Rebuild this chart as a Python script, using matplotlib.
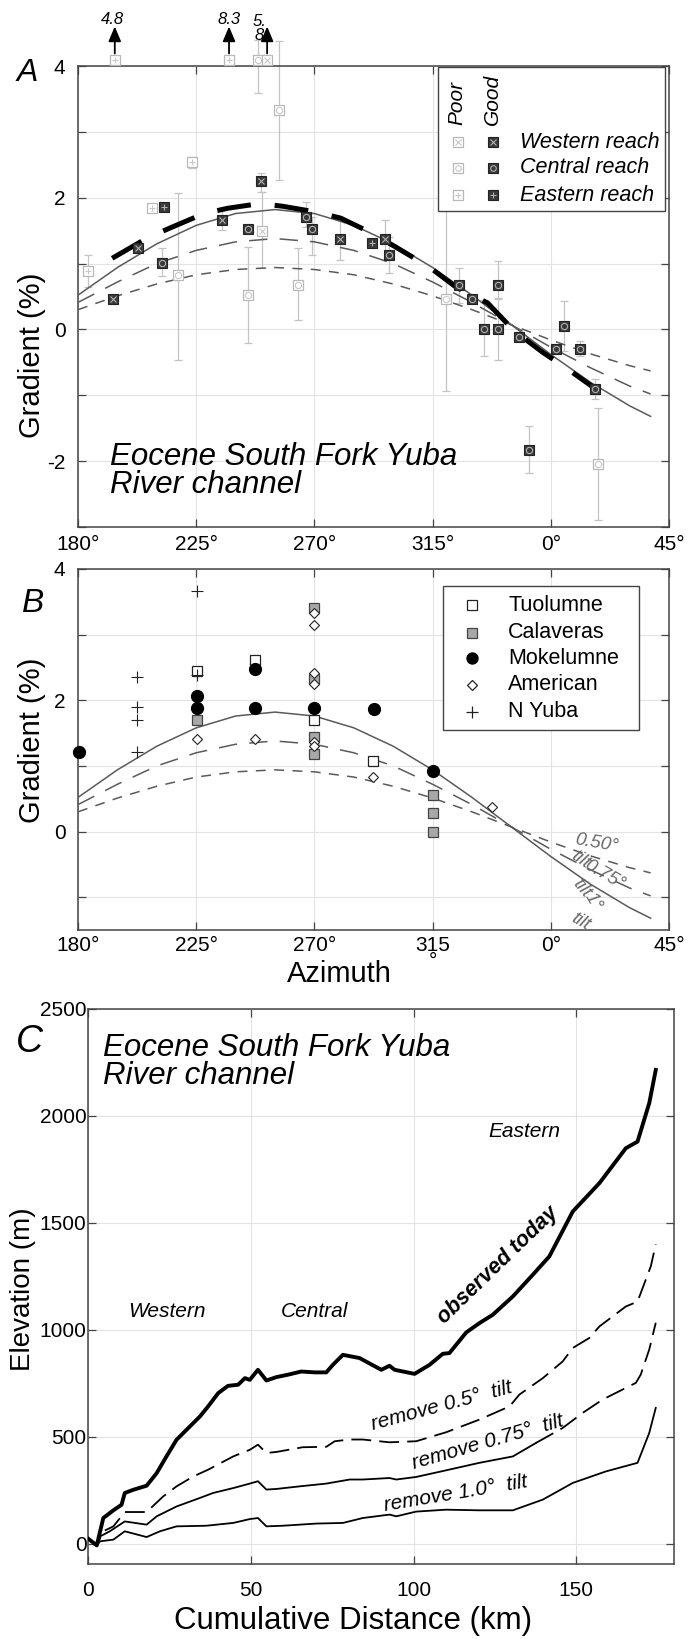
import numpy as np
import matplotlib
matplotlib.use("Agg")
import matplotlib.pyplot as plt
from matplotlib.patches import Rectangle

plt.rcParams['font.family'] = ['Liberation Sans', 'DejaVu Sans']

# ================= DATA =================
# Model gradient curves (azimuth in degrees; values > 360 continue past north)
curve_az = [180, 195, 210, 225, 240, 255, 270, 285, 300, 315, 330, 345, 360, 375, 390, 398]
tilt_100 = [0.52, 0.94, 1.30, 1.58, 1.76, 1.82, 1.76, 1.58, 1.30, 0.94, 0.52, 0.07, -0.38, -0.80, -1.16, -1.32]
tilt_075 = [0.41, 0.72, 1.00, 1.20, 1.33, 1.38, 1.33, 1.20, 1.00, 0.72, 0.41, 0.07, -0.27, -0.58, -0.86, -0.98]
tilt_050 = [0.30, 0.51, 0.69, 0.83, 0.91, 0.94, 0.91, 0.83, 0.69, 0.51, 0.30, 0.07, -0.16, -0.37, -0.55, -0.63]

# Fit to good data (thick dashed)
fit_az = [193, 206, 215, 228, 237, 249, 258, 271, 280, 292, 301, 314, 324, 336, 346, 357, 366, 378]
fit_grad = [1.08, 1.38, 1.54, 1.76, 1.84, 1.91, 1.87, 1.78, 1.69, 1.46, 1.25, 0.94, 0.64, 0.40, -0.02, -0.35, -0.59, -0.93]

# Panel A measurements: azimuth, gradient, lower, upper
gw_az = [193.2, 203.0, 234.7, 249.7, 279.7, 296.9]
gw_g = [0.46, 1.23, 1.66, 2.25, 1.37, 1.37]
gw_lo = [0.46, 1.23, 1.51, 2.08, 1.05, 1.05]
gw_hi = [0.46, 1.23, 1.81, 2.37, 1.70, 1.66]

gc_az = [212.0, 244.8, 266.8, 269.0, 298.4, 325.0, 330.0, 334.5, 340.0, 340.0, 348.0, 351.7, 362.0, 365.0, 371.0, 377.0]
gc_g = [1.01, 1.52, 1.70, 1.52, 1.13, 0.67, 0.46, 0.00, 0.00, 0.67, -0.12, -1.83, -0.29, 0.05, -0.29, -0.91]
gc_lo = [0.81, 1.52, 1.55, 1.13, 0.85, 0.40, 0.46, -0.41, -0.47, 0.46, -0.12, -2.18, -0.29, -0.32, -0.41, -1.05]
gc_hi = [1.23, 1.52, 1.93, 1.70, 1.40, 0.94, 0.46, 0.44, 0.47, 1.04, -0.12, -1.46, -0.29, 0.43, -0.17, -0.75]

ge_az = [212.8, 291.9]
ge_g = [1.86, 1.31]
ge_lo = [1.86, 1.31]
ge_hi = [1.86, 1.31]

pw_az = [250.0, 252.0]
pw_g = [1.49, 5.8]
pw_lo = [0.94, 5.8]
pw_hi = [2.08, 5.8]

pc_az = [218.0, 244.8, 248.5, 256.6, 263.9, 320.0, 378.0]
pc_g = [0.82, 0.52, 4.10, 3.33, 0.68, 0.46, -2.04]
pc_lo = [-0.46, -0.21, 3.59, 2.27, 0.14, -0.94, -2.90]
pc_hi = [2.07, 1.25, 4.40, 4.38, 1.23, 1.84, -1.19]

pe_az = [183.8, 194.0, 208.0, 223.4, 237.5]
pe_g = [0.88, 4.8, 1.85, 2.54, 8.3]
pe_lo = [0.64, 4.8, 1.85, 2.45, 8.3]
pe_hi = [1.13, 4.8, 1.85, 2.62, 8.3]

offscale_label_az = [193.3, 237.5, 249.0]
offscale_label_txt = ['4.8', '8.3', '5.\n8']

# Panel B measurements
tuo_az = [225.3, 247.4, 270.0, 292.3]
tuo_g = [2.45, 2.61, 1.70, 1.08]
cal_az = [225.3, 270.0, 270.0, 270.0, 270.0, 315.1, 315.1, 315.1]
cal_g = [1.70, 3.41, 2.32, 1.44, 1.18, 0.56, 0.29, 0.00]
mok_az = [180.4, 225.3, 225.3, 247.4, 247.4, 270.0, 292.7, 315.1]
mok_g = [1.21, 2.06, 1.88, 2.48, 1.88, 1.88, 1.86, 0.92]
ame_az = [225.3, 247.4, 270.0, 270.0, 270.0, 270.0, 270.0, 270.0, 292.3, 337.6]
ame_g = [1.41, 1.41, 3.33, 3.14, 2.41, 2.25, 1.37, 1.30, 0.83, 0.38]
nyu_az = [202.5, 202.5, 202.5, 202.5, 225.3, 225.3]
nyu_g = [2.35, 1.89, 1.70, 1.21, 3.67, 2.39]

tilt_lbl_txt = ['0.50°', 'tilt', '0.75°', 'tilt', '1°', 'tilt']
tilt_lbl_az = [377.6, 371.1, 380.6, 371.7, 376.0, 371.5]
tilt_lbl_g = [-0.18, -0.43, -0.66, -0.87, -1.07, -1.38]
tilt_lbl_rot = [-10, -35, -30, -50, -60, -30]

az_ticks = [180, 225, 270, 315, 360, 405]
az_labels_A = ['180°', '225°', '270°', '315°', '0°', '45°']
az_labels_B = ['180°', '225°', '270°', '315\n°', '0°', '45°']

# Panel C profiles: cumulative distance (km), elevation (m)
obs_d = [0.1, 2.7, 4.7, 7.8, 10.3, 11.3, 13.9, 18.0, 21.1, 24.1, 27.2, 30.3, 34.4, 36.9, 40.0, 43.0,
         46.1, 48.2, 49.7, 52.2, 54.8, 57.9, 61.4, 65.5, 69.6, 73.2, 75.2, 78.3, 83.4, 90.1, 92.6, 94.2,
         100.3, 104.9, 109.0, 111.0, 116.2, 120.2, 124.3, 130.5, 136.6, 141.7, 148.9, 157.1, 165.2,
         168.8, 172.4, 174.4]
obs_e = [23, -8, 120, 156, 182, 237, 252, 271, 330, 408, 486, 533, 595, 642, 704, 738,
         743, 774, 766, 813, 763, 779, 790, 805, 801, 801, 836, 883, 868, 813, 832, 813,
         794, 836, 888, 891, 988, 1031, 1070, 1156, 1257, 1343, 1553, 1686, 1849,
         1880, 2060, 2215]

rm050_d = [0.1, 2.7, 4.7, 7.8, 11.3, 18.0, 23.1, 27.2, 32.3, 36.9, 44.6, 49.7, 52.2, 54.8, 57.9,
           66.0, 73.2, 75.8, 80.4, 84.4, 92.6, 100.8, 110.0, 120.2, 129.5, 132.5, 139.7, 145.8,
           148.9, 154.0, 157.1, 165.2, 168.8, 172.9, 174.4]
rm050_e = [23, -8, 58, 81, 148, 148, 221, 268, 314, 346, 408, 439, 463, 424, 429,
           451, 453, 479, 487, 487, 474, 479, 521, 580, 642, 697, 774, 852,
           915, 962, 1016, 1109, 1132, 1298, 1400]

rm075_d = [0.1, 2.7, 3.7, 6.7, 11.3, 18.0, 21.1, 27.2, 34.4, 38.4, 44.6, 49.7, 52.2, 54.8, 57.9,
           65.0, 73.2, 80.4, 84.4, 92.6, 94.7, 100.8, 110.0, 120.2, 130.5, 137.6, 145.8, 151.9,
           158.1, 168.3, 169.8, 172.4, 174.4]
rm075_e = [23, -8, 34, 58, 104, 89, 128, 174, 214, 237, 260, 281, 292, 253, 256,
           268, 281, 300, 300, 307, 300, 312, 343, 378, 408, 471, 541, 611,
           674, 752, 791, 908, 1033]

rm100_d = [0.1, 2.7, 3.7, 7.8, 11.3, 18.0, 22.1, 27.2, 36.4, 44.6, 49.7, 52.2, 54.8, 59.9, 70.1,
           78.3, 84.4, 92.6, 94.7, 100.8, 110.0, 120.2, 130.5, 139.7, 148.9, 159.1, 168.8, 172.4, 174.4]
rm100_e = [23, -8, 11, 19, 58, 31, 58, 81, 84, 97, 115, 120, 81, 84, 94,
           97, 120, 136, 128, 150, 159, 156, 156, 206, 284, 338, 378, 518, 635]

# ================= STYLE =================
CLIP = 4.09
ARROW_MIN = 4.5
SPINE = '#444444'
GRID = '#e3e3e3'
CURVE = '#5a5a5a'
GOOD_FACE = '#3a3a3a'
GOOD_SYM = '#b0b0b0'
POOR_EDGE = '#b8b8b8'
POOR_SYM = '#c8c8c8'
ERR = '#c4c4c4'
TICK_FS = 15

fig = plt.figure(figsize=(6.88, 16.39), dpi=100)
fig.patch.set_facecolor('white')
axA = fig.add_axes([78/688, 1-527/1639, 591/688, 461/1639])
axB = fig.add_axes([78/688, 1-930/1639, 591/688, 361/1639])
axC = fig.add_axes([88/688, 1-1564/1639, 586/688, 555/1639])


def style(ax, pady, padx):
    for s in ax.spines.values():
        s.set_color(SPINE)
        s.set_linewidth(1.1)
    ax.tick_params(direction='in', top=True, right=True, length=6, width=0.9,
                   color=SPINE, labelsize=TICK_FS)
    ax.tick_params(axis='y', pad=pady)
    ax.tick_params(axis='x', pad=padx)
    ax.grid(True, color=GRID, lw=0.8)
    ax.set_axisbelow(True)


# ----------------- Panel A -----------------
style(axA, 9, 6)
axA.set_xlim(180, 405)
axA.set_ylim(-3, 4)
axA.set_xticks(az_ticks)
axA.set_xticklabels(az_labels_A)
axA.set_yticks([-3, -2, -1, 0, 1, 2, 3, 4])
axA.set_yticklabels(['', '-2', '', '0', '', '2', '', '4'])

for ax in (axA, axB):
    ax.plot(curve_az, tilt_100, color=CURVE, lw=1.1, zorder=3)
    ax.plot(curve_az, tilt_075, color=CURVE, lw=1.1, dashes=(12, 8), zorder=3)
    ax.plot(curve_az, tilt_050, color=CURVE, lw=1.1, dashes=(6.5, 5.5), zorder=3)
axA.plot(fit_az, fit_grad, color='black', lw=3.6, dashes=(6.8, 4.8),
         dash_capstyle='butt', zorder=4)


def draw_group(ax, az, g, lo, hi, good, sym):
    az = np.asarray(az, float)
    g = np.asarray(g, float)
    lo = np.asarray(lo, float)
    hi = np.asarray(hi, float)
    disp = np.minimum(g, CLIP)
    off = g > ARROW_MIN
    elo = np.where(off, 0, np.maximum(disp - lo, 0))
    ehi = np.where(off, 0, np.maximum(hi - disp, 0))
    eb = ax.errorbar(az, disp, yerr=[elo, ehi], fmt='none', ecolor=ERR,
                     elinewidth=0.9, capsize=3, capthick=0.9, zorder=2)
    for child in eb.lines[1] + eb.lines[2]:
        child.set_clip_on(False)
    if good:
        ax.plot(az, disp, ls='none', marker='s', ms=7.5, mfc=GOOD_FACE, mec='#222222',
                mew=0.8, zorder=6, clip_on=False)
        ax.plot(az, disp, ls='none', marker=sym, ms=4.5, mfc='none', mec=GOOD_SYM,
                mew=0.8, zorder=7, clip_on=False)
    else:
        ax.plot(az, disp, ls='none', marker='s', ms=7.5, mfc='white', mec=POOR_EDGE,
                mew=0.9, zorder=5, clip_on=False)
        ax.plot(az, disp, ls='none', marker=sym, ms=4.5, mfc='none', mec=POOR_SYM,
                mew=0.8, zorder=5, clip_on=False)
    for a, v in zip(az[off], g[off]):
        ax.annotate('', xy=(a, 4.60), xytext=(a, CLIP + 0.1),
                    arrowprops=dict(arrowstyle='-|>,head_length=0.9,head_width=0.38',
                                    color='black', lw=1.3, shrinkA=0, shrinkB=0),
                    annotation_clip=False, zorder=8)


draw_group(axA, pe_az, pe_g, pe_lo, pe_hi, False, '+')
draw_group(axA, pc_az, pc_g, pc_lo, pc_hi, False, 'o')
draw_group(axA, pw_az, pw_g, pw_lo, pw_hi, False, 'x')
draw_group(axA, gc_az, gc_g, gc_lo, gc_hi, True, 'o')
draw_group(axA, gw_az, gw_g, gw_lo, gw_hi, True, 'x')
draw_group(axA, ge_az, ge_g, ge_lo, ge_hi, True, '+')

for a, t in zip(offscale_label_az, offscale_label_txt):
    if '\n' in t:
        axA.text(a, 4.57, t, ha='center', va='center', fontsize=12, style='italic',
                 linespacing=0.9, clip_on=False, zorder=9)
    else:
        axA.text(a, 4.70, t, ha='center', va='center', fontsize=12, style='italic',
                 clip_on=False, zorder=9)

axA.set_ylabel('Gradient (%)', fontsize=21)
axA.yaxis.set_label_coords(-0.054, 0.373)
axA.text(0.054, 0.121, 'Eocene South Fork Yuba\nRiver channel', transform=axA.transAxes,
         ha='left', va='center', fontsize=22.5, style='italic', linespacing=0.92)

# legend A (manual)
axA.add_patch(Rectangle((0.609, 0.685), 0.384, 0.313, transform=axA.transAxes,
                        facecolor='white', edgecolor=SPINE, lw=1.0, zorder=10))
axA.text(0.641, 0.872, 'Poor', transform=axA.transAxes, rotation=90, ha='center',
         va='bottom', fontsize=15, style='italic', zorder=11)
axA.text(0.702, 0.872, 'Good', transform=axA.transAxes, rotation=90, ha='center',
         va='bottom', fontsize=15, style='italic', zorder=11)
leg_rows = [('Western reach', 'x', 0.835), ('Central reach', 'o', 0.779), ('Eastern reach', '+', 0.720)]
for name, sym, yy in leg_rows:
    axA.plot([0.643], [yy], transform=axA.transAxes, ls='none', marker='s', ms=6.5,
             mfc='white', mec=POOR_EDGE, mew=0.9, zorder=11, clip_on=False)
    axA.plot([0.643], [yy], transform=axA.transAxes, ls='none', marker=sym, ms=4,
             mfc='none', mec=POOR_SYM, mew=0.8, zorder=12, clip_on=False)
    axA.plot([0.702], [yy], transform=axA.transAxes, ls='none', marker='s', ms=6.5,
             mfc=GOOD_FACE, mec='#222222', mew=0.8, zorder=11, clip_on=False)
    axA.plot([0.702], [yy], transform=axA.transAxes, ls='none', marker=sym, ms=4,
             mfc='none', mec=GOOD_SYM, mew=0.8, zorder=12, clip_on=False)
    axA.text(0.748, yy, name, transform=axA.transAxes, ha='left', va='center',
             fontsize=15.5, style='italic', zorder=11)

# ----------------- Panel B -----------------
style(axB, 9, 4)
axB.set_xlim(180, 405)
axB.set_ylim(-1.5, 4)
axB.set_xticks(az_ticks)
xt = axB.set_xticklabels(az_labels_B)
for t in xt:
    t.set_linespacing(0.8)
axB.set_yticks([-1, 0, 1, 2, 3, 4])
axB.set_yticklabels(['', '0', '', '2', '', '4'])

axB.plot(tuo_az, tuo_g, ls='none', marker='s', ms=7.5, mfc='white', mec='#222222', mew=0.9,
         zorder=6, clip_on=False)
axB.plot(cal_az, cal_g, ls='none', marker='s', ms=7.5, mfc='#a8a8a8', mec='#444444', mew=0.9,
         zorder=6, clip_on=False)
axB.plot(mok_az, mok_g, ls='none', marker='o', ms=8.5, mfc='black', mec='black',
         zorder=7, clip_on=False)
axB.plot(ame_az, ame_g, ls='none', marker='D', ms=5.5, mfc='white', mec='#222222', mew=0.8,
         zorder=8, clip_on=False)
axB.plot(nyu_az, nyu_g, ls='none', marker='+', ms=9, mec='#222222', mew=0.8,
         zorder=8, clip_on=False)

for t, a, v, r in zip(tilt_lbl_txt, tilt_lbl_az, tilt_lbl_g, tilt_lbl_rot):
    axB.text(a, v, t, ha='center', va='center', rotation=r, rotation_mode='anchor',
             fontsize=13.5, style='italic', color='#6a6a6a', clip_on=False, zorder=9)

axB.set_ylabel('Gradient (%)', fontsize=21)
axB.yaxis.set_label_coords(-0.054, 0.526)
axB.set_xlabel('Azimuth', fontsize=21)
axB.xaxis.set_label_coords(0.443, -0.083)

axB.add_patch(Rectangle((0.618, 0.554), 0.331, 0.399, transform=axB.transAxes,
                        facecolor='white', edgecolor=SPINE, lw=1.0, zorder=10))
legB = [('Tuolumne', 's', 6.5, 'white', '#222222', 0.900),
        ('Calaveras', 's', 6.5, '#a8a8a8', '#444444', 0.823),
        ('Mokelumne', 'o', 8, 'black', 'black', 0.753),
        ('American', 'D', 5, 'white', '#222222', 0.679),
        ('N Yuba', '+', 8, 'none', '#222222', 0.604)]
for name, mk, ms, fc, ec, yy in legB:
    axB.plot([0.667], [yy], transform=axB.transAxes, ls='none', marker=mk, ms=ms,
             mfc=fc, mec=ec, mew=0.9, zorder=11, clip_on=False)
    axB.text(0.728, yy, name, transform=axB.transAxes, ha='left', va='center',
             fontsize=15.5, zorder=11)

# ----------------- Panel C -----------------
style(axC, 1, 12)
axC.set_xlim(0, 180)
axC.set_ylim(-95, 2500)
axC.set_xticks([0, 50, 100, 150])
axC.set_yticks([0, 500, 1000, 1500, 2000, 2500])

axC.plot(obs_d, obs_e, color='black', lw=2.8, zorder=5, solid_joinstyle='round')
axC.plot(rm050_d, rm050_e, color='black', lw=1.3, dashes=(11, 4.5), zorder=4)
d075 = np.asarray(rm075_d)
e075 = np.asarray(rm075_e)
m1 = d075 <= 137.6
m2 = d075 >= 137.6
axC.plot(d075[m1], e075[m1], color='black', lw=1.3, zorder=4)
axC.plot(d075[m2], e075[m2], color='black', lw=1.3, dashes=(11, 4.5), zorder=4)
axC.plot(rm100_d, rm100_e, color='black', lw=1.3, zorder=4)

axC.text(0.0256, 0.9045, 'Eocene South Fork Yuba\nRiver channel', transform=axC.transAxes,
         ha='left', va='center', fontsize=22.5, style='italic', linespacing=0.92)
axC.text(24.2, 1084, 'Western', ha='center', va='center', fontsize=15, style='italic')
axC.text(69.6, 1084, 'Central', ha='center', va='center', fontsize=15, style='italic')
axC.text(134.0, 1925, 'Eastern', ha='center', va='center', fontsize=15, style='italic')
axC.text(125.9, 1300, 'observed today', ha='center', va='center', rotation=44,
         rotation_mode='anchor', fontsize=15.5, fontweight='bold', style='italic')
axC.text(108.7, 642, 'remove 0.5°  tilt', ha='center', va='center', rotation=15,
         rotation_mode='anchor', fontsize=15, style='italic')
axC.text(122.7, 474, 'remove 0.75°  tilt', ha='center', va='center', rotation=16,
         rotation_mode='anchor', fontsize=15, style='italic')
axC.text(112.9, 234, 'remove 1.0°  tilt', ha='center', va='center', rotation=9.5,
         rotation_mode='anchor', fontsize=15, style='italic')

fig.text(23/688, 1-1289/1639, 'Elevation (m)', rotation=90, ha='center', va='center',
         fontsize=20)
axC.set_xlabel('Cumulative Distance (km)', fontsize=22.5)
axC.xaxis.set_label_coords(0.452, -0.0757)

# panel letters
fig.text(27.5/688, 1-73/1639, 'A', ha='center', va='center', fontsize=23, style='italic')
fig.text(33/688, 1-603/1639, 'B', ha='center', va='center', fontsize=24, style='italic')
fig.text(29/688, 1-1042/1639, 'C', ha='center', va='center', fontsize=27, style='italic')

fig.savefig('out.png', dpi=100, facecolor='white')
